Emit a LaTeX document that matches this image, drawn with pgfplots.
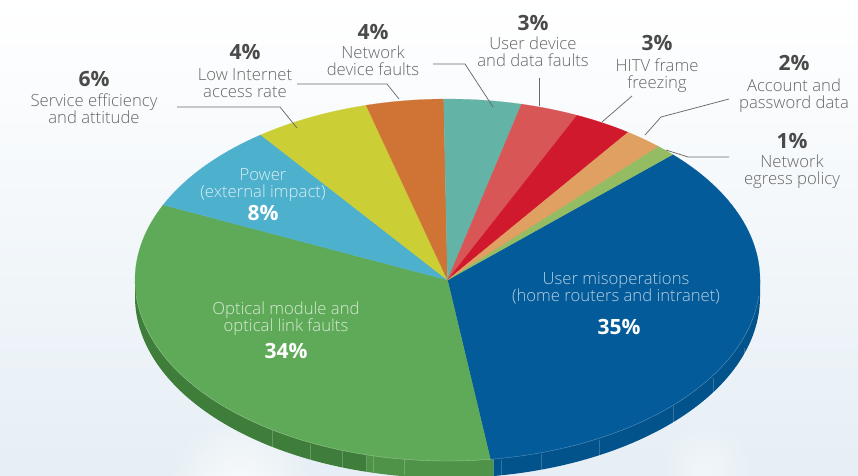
\documentclass[border=0pt]{standalone}
\usepackage{fontspec}
\usepackage{pgfplots}
\usepackage{pgfplotstable}
\pgfplotsset{compat=1.18}
\usetikzlibrary{fadings}
\setmainfont{Open Sans}
\newfontfamily\lightfont{Open Sans Light}
\newfontfamily\boldfont{Open Sans}[BoldFont={Open Sans Bold}]
\tikzfading[name=softdisc,inner color=transparent!0,outer color=transparent!100]

% Share of each cause, clockwise from the top right of the disc
\pgfplotstableread{
share
35
34
8
6
4
4
3
3
2
1
}\causes

\definecolor{sl0}{HTML}{035B9A}
\definecolor{sl1}{HTML}{5FAA58}
\definecolor{sl2}{HTML}{4DB0CC}
\definecolor{sl3}{HTML}{CCCE35}
\definecolor{sl4}{HTML}{D07435}
\definecolor{sl5}{HTML}{64B3A7}
\definecolor{sl6}{HTML}{D85656}
\definecolor{sl7}{HTML}{D1192D}
\definecolor{sl8}{HTML}{DFA062}
\definecolor{sl9}{HTML}{93BC63}
\definecolor{sideblue}{HTML}{02528B}
\definecolor{sidegreen}{HTML}{3F7D3B}
\definecolor{sidegreenb}{HTML}{4F9349}
\definecolor{leader}{HTML}{6A6A6A}
\definecolor{txt}{HTML}{666666}
\definecolor{num}{HTML}{4A4A4A}

\def\cx{447.5}
\def\cy{280}
\def\rx{312.5}
\def\ry{181}
\def\depth{17}
\def\firstangle{43.9}

% Rim of the disc between two angles, closed along the chord of the top face
\newcommand{\rim}[3]{%
  \pgfmathsetmacro\ax{\cx+\rx*cos(#1)}\pgfmathsetmacro\ay{\cy-\ry*sin(#1)}%
  \pgfmathsetmacro\bx{\cx+\rx*cos(#2)}\pgfmathsetmacro\by{\cy-\ry*sin(#2)}%
  \edef\mycmd{\noexpand\addplot[fill=#3,draw=none,domain=#1:#2,samples=60]
    ({\cx+\rx*cos(x)},{\cy+\depth-\ry*sin(x)})
    -- (axis cs:\bx,\by) -- (axis cs:\ax,\ay) -- cycle;}\mycmd}

\newcommand{\seam}[3]{%
  \addplot[white,opacity=.2,line width=.5pt] coordinates {(#1,#2) (#1,#3)};}

% One wedge of the top face, its angle taken from the share in the table
\newcommand{\slicewedge}[1]{%
  \pgfplotstablegetelem{#1}{share}\of\causes
  \pgfmathsetmacro\endangle{\firstangle-\pgfplotsretval*3.6}%
  \pgfmathtruncatemacro\nsamp{max(3,(\firstangle-\endangle)/1.5+2)}%
  \edef\mycmd{\noexpand\addplot[fill=sl#1,draw=sl#1,line width=.2pt,domain=\endangle:\firstangle,samples=\nsamp]
    ({\cx+\rx*cos(x)},{\cy-\ry*sin(x)})
    -- (axis cs:\cx,\cy) -- cycle;}\mycmd
  \global\let\firstangle\endangle}

\newcommand{\lbl}[4]{\node[text=#4,font=\lightfont\fontsize{16.7}{18}\selectfont,inner sep=0pt,anchor=base,yshift=-6pt] at (axis cs:#1,#2) {#3};}
\newcommand{\pct}[4]{\node[text=#4,font=\boldfont\bfseries\fontsize{21}{22}\selectfont,inner sep=0pt,anchor=base,yshift=-8pt] at (axis cs:#1,#2) {#3\%};}
\newcommand{\lead}[1]{\addplot[leader,line width=.75pt] coordinates {#1};}

\begin{document}
\begin{tikzpicture}
\begin{axis}[
  width=858pt,height=475pt,scale only axis,
  xmin=0,xmax=858,ymin=0,ymax=475,y dir=reverse,
  axis lines=none,clip=true,
]
% backdrop
\shade[top color=white,middle color=white!97!blue!50!white,bottom color=sl0!10!white] (axis cs:0,0) rectangle (axis cs:858,475);
\fill[white,path fading=softdisc,opacity=.8] (axis cs:240,490) circle[radius=75pt];
\fill[white,path fading=softdisc,opacity=.45] (axis cs:705,470) circle[radius=50pt];

% rim
\rim{-180}{-105}{sidegreen}
\rim{-105}{-81.5}{sidegreenb}
\rim{-81.5}{0}{sideblue}
\seam{501}{459.5}{476}
\seam{541}{454}{471}
\seam{599}{440}{457}
\seam{673}{406}{423}
\seam{713}{378}{395}
\seam{744}{348}{365}
\seam{272}{430}{447}
\seam{310}{444}{461}
\seam{342}{451}{468}
\seam{373}{456}{473}
\seam{404}{460}{475}

% top face
\pgfplotsinvokeforeach{0,...,9}{\slicewedge{#1}}
\addplot[white,opacity=.35,line width=.4pt,domain=-175:-5,samples=120]
  ({\cx+\rx*cos(x)},{\cy-\ry*sin(x)});

% leader lines
\lead{(177,107) (280,107) (297,128)}
\lead{(297,84) (387,84) (399,99)}
\lead{(433,64) (465,64) (493,107)}
\lead{(539,78) (539,106)}
\lead{(632,96) (602,122)}
\lead{(729,99) (661,117) (645,135)}
\lead{(729,157) (688,157) (666,150)}

% labels outside the disc
\pct{94}{78}{6}{num}   \lbl{94}{100}{Service efficiency}{txt} \lbl{94}{117}{and attitude}{txt}
\pct{245}{51}{4}{num}  \lbl{245}{74}{Low Internet}{txt}       \lbl{245}{91}{access rate}{txt}
\pct{373}{31}{4}{num}  \lbl{373}{52}{Network}{txt}            \lbl{373}{69}{device faults}{txt}
\pct{533}{22}{3}{num}  \lbl{533}{43}{User device}{txt}        \lbl{533}{60}{and data faults}{txt}
\pct{657}{42}{3}{num}  \lbl{657}{65}{HITV frame}{txt}         \lbl{657}{82}{freezing}{txt}
\pct{794}{62}{2}{num}  \lbl{794}{85}{Account and}{txt}        \lbl{794}{102}{password data}{txt}
\pct{792}{140}{1}{num} \lbl{792}{161}{Network}{txt}           \lbl{792}{178}{egress policy}{txt}

% labels on the disc
\lbl{263}{174}{Power}{white!80!sl2}            \lbl{263}{191}{(external impact)}{white!80!sl2} \pct{263}{212}{8}{white}
\lbl{286}{308}{Optical module and}{white!75!sl1} \lbl{286}{325}{optical link faults}{white!75!sl1} \pct{286}{350}{34}{white}
\lbl{616}{278}{User misoperations}{white!70!sl0} \lbl{616}{295}{(home routers and intranet)}{white!70!sl0} \pct{619}{326}{35}{white}
\end{axis}
\end{tikzpicture}
\end{document}
